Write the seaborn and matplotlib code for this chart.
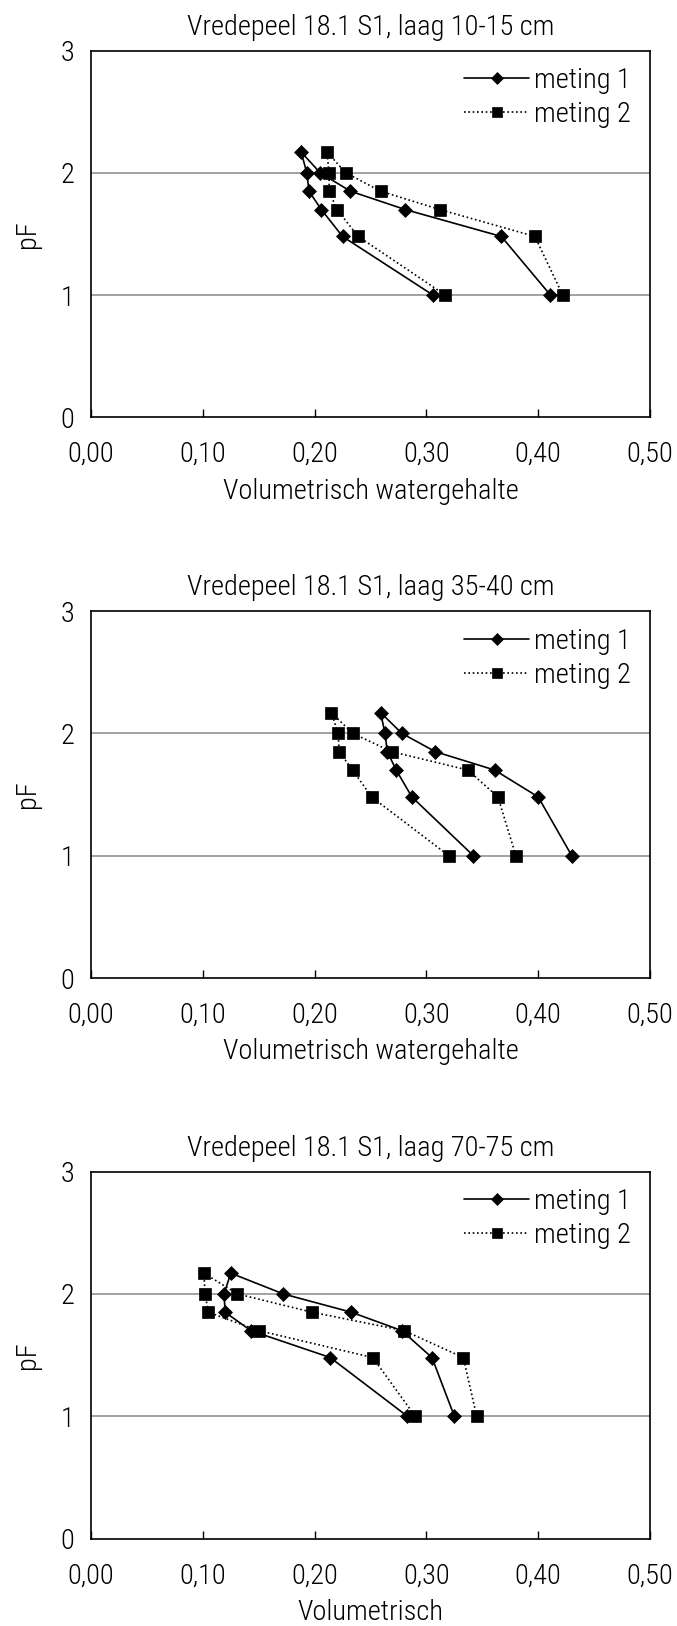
import matplotlib
matplotlib.use("Agg")
import matplotlib.pyplot as plt
from matplotlib import font_manager
import seaborn as sns
import pandas as pd

# ---------------- data ----------------
titles = ["Vredepeel 18.1 S1, laag 10-15 cm",
          "Vredepeel 18.1 S1, laag 35-40 cm",
          "Vredepeel 18.1 S1, laag 70-75 cm"]
xlabels = ["Volumetrisch watergehalte", "Volumetrisch watergehalte", "Volumetrisch"]
series_names = ["meting 1", "meting 2"]

# pF sequence of each measured curve (drying then wetting branch)
pf_values = [1.0, 1.48, 1.70, 1.85, 2.0, 2.17, 2.0, 1.85, 1.70, 1.48, 1.0]

# panel 1 (10-15 cm)
p1_meting1 = [0.411, 0.367, 0.281, 0.232, 0.205, 0.188, 0.193, 0.195, 0.206, 0.225, 0.306]
p1_meting2 = [0.422, 0.397, 0.312, 0.259, 0.228, 0.211, 0.213, 0.213, 0.220, 0.239, 0.317]
# panel 2 (35-40 cm)
p2_meting1 = [0.430, 0.400, 0.361, 0.308, 0.278, 0.259, 0.263, 0.265, 0.273, 0.287, 0.342]
p2_meting2 = [0.380, 0.364, 0.337, 0.269, 0.234, 0.215, 0.221, 0.222, 0.234, 0.251, 0.320]
# panel 3 (70-75 cm)
p3_meting1 = [0.325, 0.305, 0.278, 0.233, 0.172, 0.125, 0.119, 0.120, 0.143, 0.214, 0.283]
p3_meting2 = [0.345, 0.333, 0.280, 0.198, 0.131, 0.101, 0.102, 0.105, 0.150, 0.252, 0.290]

panels = [(p1_meting1, p1_meting2), (p2_meting1, p2_meting2), (p3_meting1, p3_meting2)]

x_ticks = [0.0, 0.1, 0.2, 0.3, 0.4, 0.5]
x_tick_labels = ["0,00", "0,10", "0,20", "0,30", "0,40", "0,50"]
y_ticks = [0, 1, 2, 3]
y_tick_labels = ["0", "1", "2", "3"]

# ---------------- style ----------------
sns.set_theme(style="white")

# look for a narrow / condensed sans-serif face
family = ["DejaVu Sans"]
stretch = "normal"
entries = font_manager.fontManager.ttflist
preferred = ["Liberation Sans Narrow", "Roboto Condensed", "Open Sans Condensed",
             "Noto Sans Condensed", "Noto Sans Display Condensed", "DejaVu Sans Condensed"]
names = {f.name for f in entries}
chosen = None
for p in preferred:
    if p in names:
        chosen = p
        break
if chosen is None:
    for f in entries:
        if f.stretch in ("condensed", "semi-condensed", "extra-condensed") and f.style == "normal" \
                and f.weight in (400, "normal", "regular") and "Mono" not in f.name and "Serif" not in f.name:
            chosen = f.name
            stretch = f.stretch
            break
weight = "normal"
if chosen is not None:
    family = [chosen, "DejaVu Sans"]
    light = [f for f in entries if f.name == chosen and f.style == "normal"
             and isinstance(f.weight, int) and f.weight == 300]
    if light:
        weight = 300

plt.rcParams["font.family"] = family
plt.rcParams["font.stretch"] = stretch
plt.rcParams["font.weight"] = weight
plt.rcParams["axes.titleweight"] = weight
plt.rcParams["axes.labelweight"] = weight
for key in ["text.color", "axes.labelcolor", "xtick.color", "ytick.color"]:
    plt.rcParams[key] = "black"
plt.rcParams["xtick.bottom"] = True

FS = 20.5
fig = plt.figure(figsize=(6.77, 16.26), dpi=100)
W, H = 677, 1626
left_px, right_px = 91, 650
height_px = 367
bottoms_px = [417.5, 978, 1538.6]

for i, ((m1, m2), title, xlabel) in enumerate(zip(panels, titles, xlabels)):
    b = bottoms_px[i]
    ax = fig.add_axes([left_px / W, (H - b) / H, (right_px - left_px) / W, height_px / H])
    df = pd.DataFrame({
        "theta": list(m1) + list(m2),
        "pF": pf_values + pf_values,
        "meting": [series_names[0]] * len(m1) + [series_names[1]] * len(m2),
    })
    for val in [1, 2]:
        ax.axhline(val, color="#9a9a9a", lw=1.3, zorder=0)
    sns.lineplot(data=df, x="theta", y="pF", hue="meting", style="meting",
                 sort=False, estimator=None, ax=ax,
                 palette={series_names[0]: "black", series_names[1]: "black"},
                 markers={series_names[0]: "D", series_names[1]: "s"},
                 dashes={series_names[0]: "", series_names[1]: (1, 1.6)},
                 linewidth=1.2, markersize=8, markeredgecolor="black",
                 markeredgewidth=0.5)
    for ln in ax.lines:
        if ln.get_marker() == "s":
            ln.set_markersize(9)
        elif ln.get_marker() == "D":
            ln.set_markersize(7.5)
    ax.set_xlim(0, 0.5)
    ax.set_ylim(0, 3)
    ax.set_xticks(x_ticks)
    ax.set_xticklabels(x_tick_labels, fontsize=FS, fontweight=weight)
    ax.set_yticks(y_ticks)
    ax.set_yticklabels(y_tick_labels, fontsize=FS, fontweight=weight)
    ax.tick_params(axis="x", direction="in", length=6, width=1, color="black", pad=17,
                   top=False, bottom=True)
    ax.tick_params(axis="y", length=0, pad=12)
    for s in ax.spines.values():
        s.set_color("black")
        s.set_linewidth(1.2)
    ax.set_title(title, fontsize=FS, pad=11.5, fontweight=weight)
    ax.set_xlabel(xlabel, fontsize=FS, labelpad=7, fontweight=weight)
    ax.set_ylabel("pF", fontsize=FS, labelpad=14, fontweight=weight)
    leg = ax.legend(frameon=False, loc="upper right", bbox_to_anchor=(0.965, 0.955),
                    borderaxespad=0, borderpad=0, fontsize=FS, handlelength=2.3,
                    handletextpad=0.15, labelspacing=0.25, markerscale=0.8)

fig.savefig("out.png", dpi=100)
